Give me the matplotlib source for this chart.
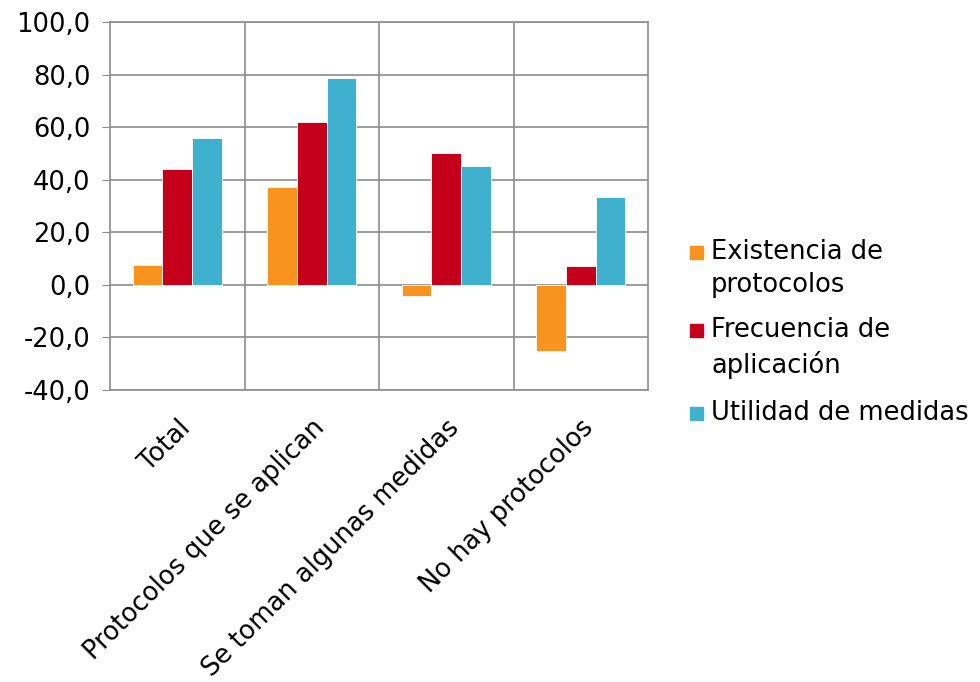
import matplotlib.pyplot as plt
import numpy as np
from matplotlib.patches import Rectangle

categories = ["Total", "Protocolos que se aplican", "Se toman algunas medidas", "No hay protocolos"]
series_names = ["Existencia de\nprotocolos", "Frecuencia de\naplicación", "Utilidad de medidas"]
existencia = [7.5, 37.2, -4.4, -25.0]
frecuencia = [44.0, 62.1, 50.0, 7.0]
utilidad = [55.8, 78.7, 45.2, 33.4]
colors = ["#F7931E", "#C5001A", "#3FB1CE"]
yticks = [-40, -20, 0, 20, 40, 60, 80, 100]

FS = 18.5
plt.rcParams["font.family"] = "DejaVu Sans"
fig = plt.figure(figsize=(9.8, 6.82), dpi=100)
ax = fig.add_axes([110 / 980, 1 - 390 / 682, 538 / 980, 368 / 682])

x = np.arange(len(categories))
w = 0.22
for i, vals in enumerate([existencia, frecuencia, utilidad]):
    ax.bar(x + (i - 1) * w, vals, w, color=colors[i], edgecolor="white", linewidth=0.6, zorder=3)

ax.set_xlim(-0.5, len(categories) - 0.5)
ax.set_ylim(-40, 100)
ax.set_yticks(yticks)
ax.set_yticklabels([f"{v:.1f}".replace(".", ",") for v in yticks], fontsize=FS)
ax.yaxis.grid(True, color="#8c8c8c", lw=1.2, zorder=0)
for b in np.arange(0.5, len(categories) - 0.5, 1):
    ax.axvline(b, color="#8c8c8c", lw=1.2, zorder=0)
for s in ax.spines.values():
    s.set_color("#8c8c8c")
    s.set_linewidth(1.2)
ax.set_xticks(x)
ax.set_xticklabels(categories, rotation=45, ha="right", rotation_mode="anchor", fontsize=FS)
ax.tick_params(axis="x", length=0, pad=18)
ax.tick_params(axis="y", length=6, color="#8c8c8c", pad=8)

# legend drawn by hand so the square sits on the first line, as in the original
ys = [252, 330, 413]
for name, c, yc in zip(series_names, colors, ys):
    fig.add_artist(Rectangle((690 / 980, 1 - (yc + 7) / 682), 13 / 980, 13 / 682,
                             transform=fig.transFigure, color=c))
    fig.text(711 / 980, 1 - (yc - 13) / 682, name, fontsize=FS, va="top", ha="left",
             linespacing=1.36)

fig.savefig("out.png", dpi=100)
